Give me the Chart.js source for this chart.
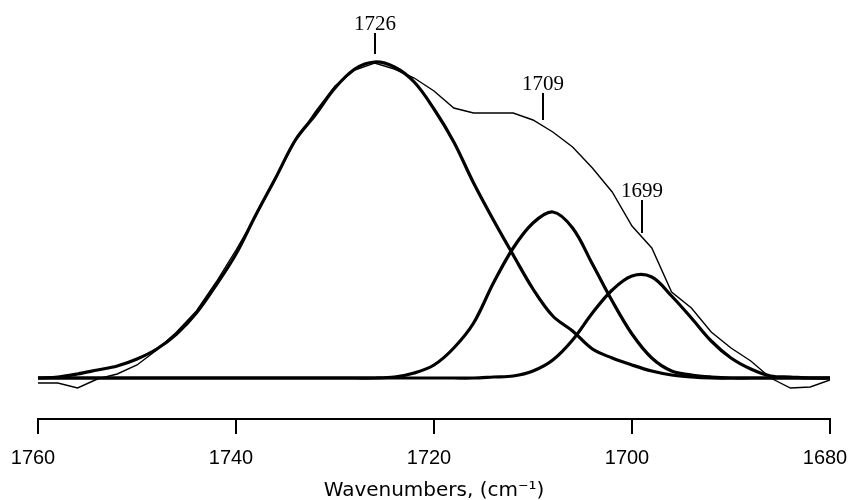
<!DOCTYPE html>
<html>
<head>
<meta charset="utf-8">
<style>
  html, body { margin: 0; padding: 0; background: #fff; }
  #wrap { width: 848px; height: 500px; }
</style>
<script src="https://cdn.jsdelivr.net/npm/chart.js@4/dist/chart.umd.min.js"></script>
</head>
<body>
<div id="wrap"><canvas id="ir-bands"></canvas></div>
<script>
"use strict";

/* spectrum data (amide I region), heights above baseline, arbitrary units */
var wavenumbers = [1760, 1758, 1756, 1754, 1752, 1750, 1748, 1746, 1744, 1742, 1740,
    1738, 1736, 1734, 1732, 1730, 1728, 1726, 1724, 1722, 1720, 1718, 1716, 1714, 1712,
    1710, 1708, 1706, 1704, 1702, 1700, 1698, 1696, 1694, 1692, 1690, 1688, 1686, 1684,
    1682, 1680];
var measured = [-5, -5, -10, -1, 4, 13, 28, 46, 67, 96, 128,
    162, 200, 237, 266, 292, 308, 315, 309, 300, 287, 270, 265, 265, 265,
    258, 246, 231, 210, 186, 152, 130, 86, 70, 46, 30, 17, 0, -10,
    -9, -2];
var band1726 = [0, 1, 4, 8, 12, 19, 29, 44, 65, 93, 124,
    163, 200, 238, 263, 290, 309, 316, 311, 296, 269, 236, 195, 158, 123,
    89, 62, 47, 29, 20, 13, 7, 3, 1, 0, 0, 0, 0, 0,
    0, 0];
var band1709 = [0, 0, 0, 0, 0, 0, 0, 0, 0, 0, 0,
    0, 0, 0, 0, 0, 0, 0, 1, 5, 13, 30, 55, 95, 130,
    155, 166, 150, 114, 77, 44, 20, 7, 3, 1, 0, 0, 0, 0,
    0, 0];
var band1699 = [0, 0, 0, 0, 0, 0, 0, 0, 0, 0, 0,
    0, 0, 0, 0, 0, 0, 0, 0, 0, 0, 0, 0, 1, 2,
    7, 18, 38, 65, 88, 102, 101, 82, 60, 37, 20, 9, 2, 1,
    0, 0];
var xTicks = [1760, 1740, 1720, 1700, 1680];

/* peak markers */
var peakLabels = ["1726", "1709", "1699"];
var peakWavenumbers = [1726, 1709, 1699];
var peakHeights = [324, 258, 145];

function toPoints(values) {
    return wavenumbers.map(function (wn, i) {
        return { x: wn, y: values[i] };
    });
}

var peakMarkers = {
    id: "peakMarkers",
    afterDatasetsDraw: function (chart, args, opts) {
        var ctx = chart.ctx;
        var xs = chart.scales.x;
        var ys = chart.scales.y;
        ctx.save();
        ctx.strokeStyle = "#000";
        ctx.lineWidth = 2;
        ctx.fillStyle = "#000";
        ctx.font = "21px 'Liberation Serif', 'Times New Roman', serif";
        ctx.textAlign = "center";
        ctx.textBaseline = "alphabetic";
        peakLabels.forEach(function (label, i) {
            var px = Math.round(xs.getPixelForValue(peakWavenumbers[i]));
            var bottom = ys.getPixelForValue(peakHeights[i]);
            var top = bottom - opts.lengths[i];
            ctx.beginPath();
            ctx.moveTo(px, bottom);
            ctx.lineTo(px, top);
            ctx.stroke();
            ctx.fillText(label, px, top - 3);
        });
        ctx.restore();
    }
};

var myCanvas = document.getElementById("ir-bands");
var myChart = new Chart(myCanvas, {
    type: "line",
    data: {
        datasets: [
            {
                label: "measured",
                data: toPoints(measured),
                borderColor: "#000",
                borderWidth: 1.4,
                tension: 0,
                pointRadius: 0,
            },
            {
                label: "1726",
                data: toPoints(band1726),
                borderColor: "#000",
                borderWidth: 3.2,
                tension: 0.35,
                pointRadius: 0,
            },
            {
                label: "1709",
                data: toPoints(band1709),
                borderColor: "#000",
                borderWidth: 3.2,
                tension: 0.35,
                pointRadius: 0,
            },
            {
                label: "1699",
                data: toPoints(band1699),
                borderColor: "#000",
                borderWidth: 3.2,
                tension: 0.35,
                pointRadius: 0,
            },
        ],
    },
    options: {
        responsive: true,
        maintainAspectRatio: false,
        animation: false,
        layout: {
            padding: { left: 38, right: 18, top: 10, bottom: 0 },
        },
        plugins: {
            legend: { display: false },
            tooltip: { enabled: false },
            peakMarkers: { lengths: [21, 27, 33] },
        },
        scales: {
            x: {
                type: "linear",
                reverse: true,
                min: 1680,
                max: 1760,
                afterBuildTicks: function (axis) {
                    axis.ticks = xTicks.map(function (v) { return { value: v }; });
                },
                afterFit: function (axis) {
                    // keep the plot edges on the layout padding
                    axis.paddingLeft = 0;
                    axis.paddingRight = 0;
                },
                grid: {
                    drawOnChartArea: false,
                    drawTicks: true,
                    tickLength: 15,
                    color: "#000",
                    lineWidth: 2,
                },
                border: { display: true, color: "#000", width: 2 },
                ticks: {
                    color: "#000",
                    padding: 12,
                    labelOffset: -5,
                    maxRotation: 0,
                    callback: function (value) { return String(value); },
                    font: { family: "'Liberation Sans', Arial, sans-serif", size: 20 },
                },
                title: {
                    display: true,
                    text: "Wavenumbers, (cm\u207B\u00B9)",
                    color: "#000",
                    padding: { top: 0, bottom: 0 },
                    font: { family: "'DejaVu Sans', sans-serif", size: 20, lineHeight: 0.9 },
                },
            },
            y: {
                display: false,
                min: -41,
                max: 368,
            },
        },
    },
    plugins: [peakMarkers],
});
</script>
</body>
</html>
